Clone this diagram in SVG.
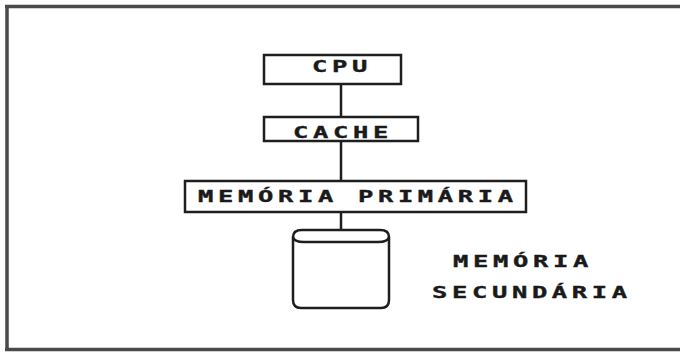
<svg xmlns="http://www.w3.org/2000/svg" width="680" height="359" viewBox="0 0 680 359">
  <style>
    .frame { stroke: #4a4a4a; stroke-width: 3.5; fill: none; }
    .box { fill: #ffffff; stroke: #1e1e1e; stroke-width: 2.5; }
    .link { stroke: #1e1e1e; stroke-width: 2.5; fill: none; }
    .lbl { font-family: "DejaVu Sans Mono", "Liberation Mono", monospace; font-weight: bold; font-size: 15px; fill: #1a1a1a; stroke: #1a1a1a; stroke-width: 0.35; letter-spacing: 2.73px; }
  </style>
  <rect width="680" height="359" fill="#ffffff"/>

  <!-- outer frame: top, left and bottom rules -->
  <g id="frame">
    <line class="frame" x1="5" y1="6.5" x2="680" y2="6.5"/>
    <line class="frame" x1="7" y1="5" x2="7" y2="351"/>
    <line class="frame" x1="5" y1="349.5" x2="680" y2="349.5"/>
  </g>

  <!-- connectors between levels of the hierarchy -->
  <g id="connectors">
    <line class="link" x1="341" y1="84" x2="341" y2="117"/>
    <line class="link" x1="341" y1="141" x2="341" y2="181"/>
    <line class="link" x1="341" y1="212" x2="341" y2="231"/>
  </g>

  <g id="cpu">
    <rect class="box" x="264" y="55" width="137" height="29"/>
    <text class="lbl" transform="scale(1.7 1)" x="183.5" y="72">CPU</text>
  </g>

  <g id="cache">
    <rect class="box" x="264" y="117" width="154" height="24"/>
    <text class="lbl" transform="scale(1.7 1)" x="172.4" y="138">CACHE</text>
  </g>

  <g id="memoria-primaria">
    <rect class="box" x="185" y="181" width="341" height="31"/>
    <text class="lbl" transform="scale(1.7 1)" x="116.5" y="202">MEMÓRIA PRIMÁRIA</text>
  </g>

  <g id="memoria-secundaria">
    <path class="box" d="M293,237 Q293,230 302,230 H380 Q389,230 389,237 V300 Q389,308 381,308 H301 Q293,308 293,300 Z"/>
    <path class="link" d="M293,237 Q294,242 304,242 H378 Q388,242 389,237"/>
    <text class="lbl" transform="scale(1.7 1)" x="266.5" y="267">MEMÓRIA</text>
    <text class="lbl" transform="scale(1.7 1)" x="254.1" y="298">SECUNDÁRIA</text>
  </g>
</svg>
